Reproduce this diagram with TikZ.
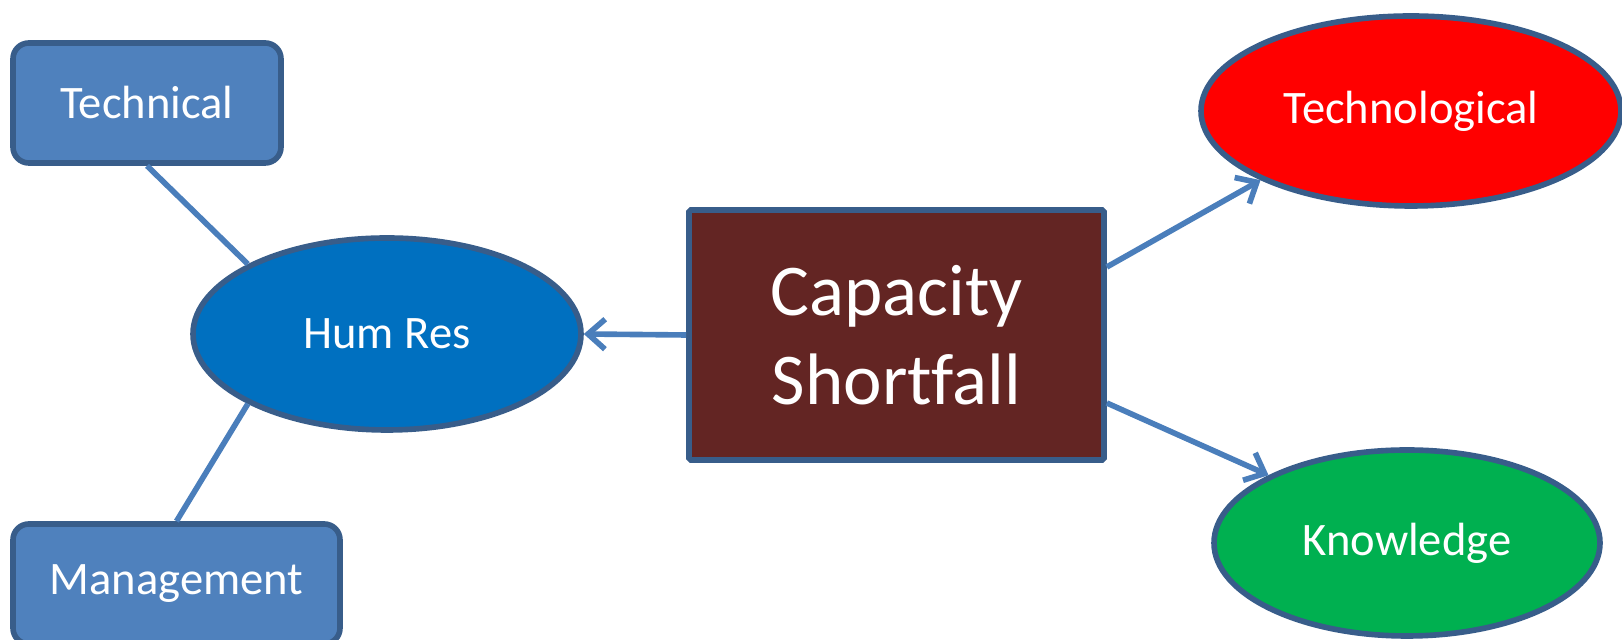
\documentclass[tikz,border=0pt]{standalone}
\usepackage{fontspec}
\setsansfont{Carlito}[Ligatures=NoCommon]
\usetikzlibrary{arrows.meta, positioning, shapes.geometric}
\definecolor{cline}{HTML}{4A7EBB}
\definecolor{cedge}{HTML}{385D8A}
\definecolor{cbox}{HTML}{4F81BD}
\definecolor{chum}{HTML}{0070C0}
\definecolor{cmaroon}{HTML}{632523}
\definecolor{cred}{HTML}{FF0000}
\definecolor{cgreen}{HTML}{00B050}
\tikzset{
  every picture/.style={font=\sffamily},
  box/.style={draw=cedge, fill=#1, line width=3.2pt, rounded corners=9pt, text=white, align=center, inner sep=0pt, minimum height=2.4cm},
  box/.default=cbox,
  blob/.style={ellipse, draw=cedge, fill=#1, line width=3.2pt, text=white, inner sep=0pt},
  arrow/.style={-{Straight Barb[length=3.4mm, width=6mm]}, draw=cline, line width=3.2pt},
  link/.style={draw=cline, line width=3.2pt},
  txt/.style={font=\sffamily\fontsize{26.5}{32}\selectfont},
  bigtxt/.style={font=\sffamily\fontsize{41.5}{50.6}\selectfont},
}

\begin{document}
\begin{tikzpicture}[x=1cm, y=1cm]
  \useasboundingbox (0,0) rectangle (32.44,12.8);
  % left side: human resources and its two parts
  \node[box, txt, minimum width=5.36cm] (tech) at (2.94,10.74) {Technical};
  \node[box, txt, minimum width=6.54cm] (mgmt) at (3.53,1.12) {Management};
  \node[blob=chum, txt, minimum width=7.76cm, minimum height=3.84cm] (hr) at (7.74,6.12) {Hum Res};
  % centre box
  \node[draw=cedge, fill=cmaroon, text=white, bigtxt, align=center, inner sep=0pt, line width=3.2pt,
        minimum width=8.30cm, minimum height=5.00cm, rounded corners=1pt] (cap) at (17.93,6.10) {Capacity\\Shortfall};
  % right side
  \node[blob=cred, txt, minimum width=8.40cm, minimum height=3.80cm] (techn) at (28.22,10.58) {Technological};
  \node[blob=cgreen, txt, minimum width=7.72cm, minimum height=3.72cm] (know) at (28.14,1.94) {Knowledge};
  \draw[link] (tech.south) -- (hr.north west);
  \draw[link] (mgmt.north) -- (hr.south west);
  \draw[arrow] (cap.west) -- (hr.east);
  \draw[arrow] ([yshift=1.36cm]cap.east) -- (techn.south west);
  \draw[arrow] ([yshift=-1.36cm]cap.east) -- (know.north west);
\end{tikzpicture}
\end{document}
